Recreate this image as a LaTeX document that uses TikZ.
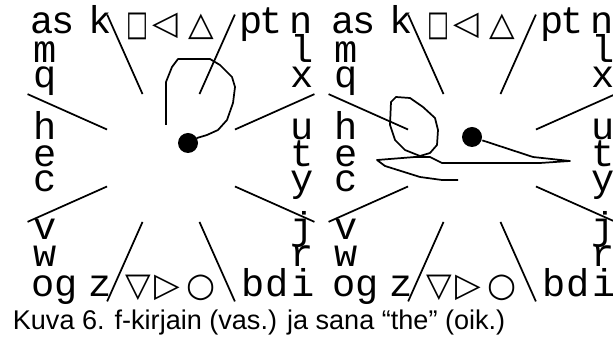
\documentclass[tikz,border=0pt]{standalone}
\usepackage{fontspec}
\usepackage{graphicx}
\setmainfont{Liberation Sans}
\newfontfamily\kehafont{Liberation Mono}
\newfontfamily\merkkifont{DejaVu Sans}

\begin{document}
\begin{tikzpicture}[x=0.75pt,y=-0.75pt,line width=1.3pt,line join=round,
  kirjain/.style={anchor=base,inner sep=0pt,font=\kehafont\fontsize{29}{29}\selectfont},
  kuvio/.style={anchor=base,inner sep=0pt,font=\merkkifont\fontsize{25}{25}\selectfont},
  kynapiste/.style={circle,fill,inner sep=0pt,minimum size=15pt}]
  \useasboundingbox (0,0) rectangle (613,341);
  \foreach \ox/\p in {0/V,301/O}{
    % kehan kirjaimet
    \foreach \x/\y/\c/\n in {42/34/a/a,63/34/s/s,100/34/k/k,251/34/p/p,271/34/t/t1,301/34/n/n,
        45/63/m/m,45/88/q/q,45/140/h/h,45/167/e/e,45/192/c/c,45/240/v/v,45/267/w/w,
        43/297/o/o,66/297/g/g,100/297/z/z,253/297/b/b,277/297/d/d,303/297/i/i,
        302/63/l/l,302/88/x/x,302/140/u/u,302/167/t/t2,302/192/y/y,302/240/j/j,302/267/r/r}
      \node[kirjain] (\p\n) at (\ox+\x,\y) {\c};
    % kuviot ylhaalla ja alhaalla
    \node[kuvio] (\p s1) at (\ox+138,36) {\scalebox{0.7}[1.05]{□}};
    \node[kuvio] (\p s2) at (\ox+165,35) {◁};
    \node[kuvio] (\p s3) at (\ox+201,36) {△};
    \node[kuvio] (\p s4) at (\ox+138,297) {▽};
    \node[kuvio] (\p s5) at (\ox+167,297) {▷};
    \node[kuvio] (\p s6) at (\ox+201,297) {○};
    % sateet keskelta
    \coordinate (\p c) at (\ox+171,158);
    \foreach \a in {24,66,114,156,204,246,294,336}
      \draw ([shift={(\a:70)}]\p c) -- ([shift={(\a:157)}]\p c);
  }
  % f-kirjain
  \node[kynapiste] (fpiste) at (188,143) {};
  \draw (166,125) -- (166,82) -- (172,67) -- (178,59) -- (210,59) -- (220,65) -- (232,77)
    -- (235,87) -- (233,103) -- (227,120) -- (218,130) -- (207,135) -- (197,138) -- (fpiste);
  % sana the
  \node[kynapiste] (thepiste) at (472,137) {};
  \draw (420,156) -- (405,150) -- (395,140) -- (390,125) -- (391,102) -- (396,97) -- (410,98)
    -- (423,107) -- (435,118) -- (438,130) -- (437,145) -- (430,153) -- cycle;
  \draw (thepiste) -- (533,157) -- (570,161) -- (540,163) -- (442,163) -- (430,157) -- (415,157)
    -- (377,160) -- (385,166) -- (420,177) -- (442,180) -- (458,180);
  % kuvateksti
  \node[anchor=base west,inner sep=0pt,font=\fontsize{20.3}{20.3}\selectfont] (teksti) at (12,330)
    {Kuva 6. f-kirjain (vas.) ja sana “the” (oik.)};
\end{tikzpicture}
\end{document}
